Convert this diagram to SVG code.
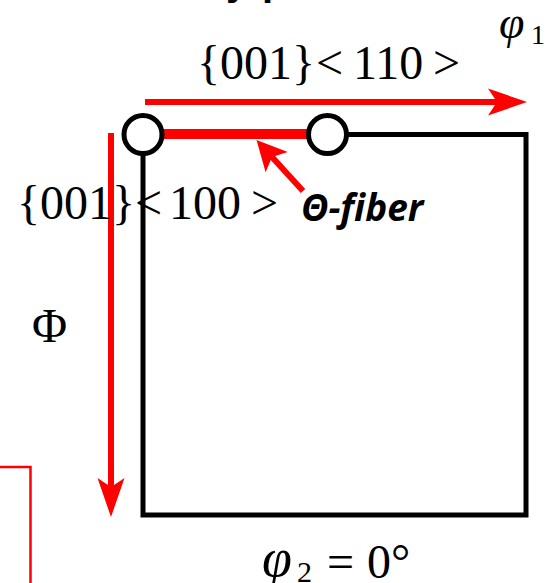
<svg xmlns="http://www.w3.org/2000/svg" width="547" height="583" viewBox="0 0 547 583">
<style>
.math{font-family:"Liberation Serif","Times New Roman",serif;fill:#000}
.it{font-style:italic}
.red{stroke:#ff0000;fill:none}
.blk{stroke:#000;fill:none;stroke-width:5}
.node{fill:#fff;stroke:#000;stroke-width:5}
.lbl{font-family:"Open Sans","Liberation Sans",sans-serif;font-weight:bold;font-style:italic;fill:#000}
</style>
<defs>
<marker id="bigHead" markerUnits="userSpaceOnUse" markerWidth="40" markerHeight="30" refX="9" refY="0" viewBox="0 -15 40 30" orient="auto" overflow="visible">
<path d="M39,0 L0,-13.5 L9,0 L0,13.5 Z" fill="#ff0000"/>
</marker>
<marker id="smallHead" markerUnits="userSpaceOnUse" markerWidth="32" markerHeight="32" refX="7" refY="0" viewBox="0 -16 32 32" orient="auto" overflow="visible">
<path d="M30,0 L0,-15 L7,0 L0,15 Z" fill="#ff0000"/>
</marker>
</defs>
<rect width="547" height="583" fill="#fff"/>
<text x="0" y="-5" font-size="40" font-weight="bold" font-family="Liberation Sans, sans-serif"><tspan x="226">y</tspan><tspan x="262">p</tspan></text>
<g id="box">
<rect class="blk" x="143" y="134.5" width="383" height="380.5"/>
</g>
<g id="connectors">
<line class="red" x1="145" y1="102" x2="497" y2="102" stroke-width="6" marker-end="url(#bigHead)"/>
<line class="red" x1="111" y1="133" x2="111" y2="487" stroke-width="6" marker-end="url(#bigHead)"/>
<line class="red" x1="303" y1="191" x2="272" y2="157" stroke-width="6" marker-end="url(#smallHead)"/>
<line class="red" x1="160" y1="134" x2="310" y2="134" stroke-width="10"/>
<polyline class="red" points="0,467 30.5,467 30.5,583" stroke-width="2.5"/>
</g>
<g id="node-001-100">
<circle class="node" cx="143" cy="134.5" r="19"/>
</g>
<g id="node-theta-end">
<circle class="node" cx="327.5" cy="134.5" r="19"/>
</g>
<g id="labels">
<text class="math" x="197" y="79" font-size="48">{001}</text>
<text class="math" x="316" y="79" font-size="48">&lt;</text>
<text class="math" x="353" y="79" font-size="48">110</text>
<text class="math" x="433" y="79" font-size="48">&gt;</text>
<text class="math" x="17" y="219" font-size="48">{001}</text>
<text class="math" x="135" y="219" font-size="48">&lt;</text>
<text class="math" x="169" y="219" font-size="48">100</text>
<text class="math" x="251" y="219" font-size="48">&gt;</text>
<text class="lbl" x="301" y="221" font-size="37">Θ-fiber</text>
<text class="math" x="32" y="342" font-size="48">Φ</text>
<text class="math it" x="499" y="38" font-size="46">φ</text>
<text class="math" x="531" y="44" font-size="28">1</text>
<text class="math it" x="262" y="576" font-size="54">φ</text>
<text class="math" x="297" y="582" font-size="30">2</text>
<text class="math" x="327" y="578" font-size="48">=</text>
<text class="math" x="367" y="578" font-size="48">0°</text>
</g>
</svg>
